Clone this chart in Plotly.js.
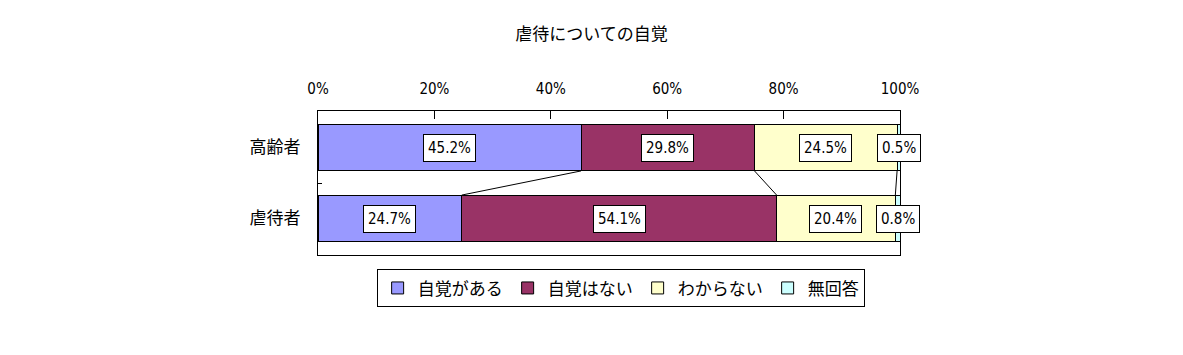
<!DOCTYPE html>
<html><head><meta charset="utf-8">
<script src="https://cdn.plot.ly/plotly-3.0.1.min.js"></script>
<style>html,body{margin:0;padding:0;background:#fff}#chart{width:1183px;height:355px}</style>
</head><body><div id="chart"></div>
<script>
const categories = ['高齢者', '虐待者'];
const seriesNames = ['自覚がある', '自覚はない', 'わからない', '無回答'];
const seriesColors = ['#9999FF', '#993366', '#FFFFCC', '#CCFFFF'];
const aware = [45.2, 24.7];
const notAware = [29.8, 54.1];
const unknown = [24.5, 20.4];
const noAnswer = [0.5, 0.8];
const xTickVals = [0, 20, 40, 60, 80, 100];
const xTickText = ['0%', '20%', '40%', '60%', '80%', '100%'];

const series = [aware, notAware, unknown, noAnswer];
const narrow = '"DejaVu Sans Condensed", "Liberation Sans Narrow", sans-serif';
const jp = '"Noto Sans CJK JP", sans-serif';
const barW = 0.66;

const traces = series.map((vals, i) => ({
  type: 'bar', orientation: 'h', name: seriesNames[i],
  y: categories, x: vals, width: barW,
  marker: {color: seriesColors[i], line: {color: '#000', width: 1}},
  hoverinfo: 'none'
}));

const annotations = [];
const shapes = [];
const cum = categories.map(() => []);
categories.forEach((c, ci) => {
  let s = 0;
  series.forEach((vals, si) => {
    const v = vals[ci];
    annotations.push({
      x: s + v / 2, y: c, xref: 'x', yref: 'y', text: v.toFixed(1) + '%', showarrow: false,
      font: {family: narrow, size: 15, color: '#000'},
      bgcolor: '#fff', bordercolor: '#000', borderwidth: 1, borderpad: 4
    });
    s += v;
    cum[ci].push(s);
  });
});
for (let si = 0; si < 3; si++) {
  shapes.push({type: 'line', xref: 'x', yref: 'y',
    x0: cum[0][si], y0: 0 + barW / 2, x1: cum[1][si], y1: 1 - barW / 2,
    line: {color: '#000', width: 1}});
}

const layout = {
  width: 1183, height: 355,
  margin: {l: 318, r: 283, t: 111, b: 100},
  paper_bgcolor: '#fff', plot_bgcolor: '#fff',
  barmode: 'stack',
  showlegend: true,
  title: {text: '虐待についての自覚', font: {family: jp, size: 17, color: '#000'}, x: 0.5, xanchor: 'center', y: 0.905, yanchor: 'middle'},
  xaxis: {side: 'top', range: [0, 100], tickvals: xTickVals, ticktext: xTickText,
    ticks: 'inside', ticklen: 8, tickcolor: '#000', showgrid: false, zeroline: false,
    showline: true, linecolor: '#000', linewidth: 1, mirror: true, ticklabelstandoff: 10,
    tickfont: {family: narrow, size: 15, color: '#000'}, fixedrange: true},
  yaxis: {type: 'category', autorange: false, range: [1.514, -0.514],
    ticks: 'inside', tickson: 'boundaries', ticklen: 4, tickcolor: '#000',
    showline: true, linecolor: '#000', linewidth: 1, mirror: true,
    showgrid: false, zeroline: false, ticklabelstandoff: 13,
    tickfont: {family: jp, size: 17, color: '#000'}, fixedrange: true},
  legend: {orientation: 'h', x: 0.52, xanchor: 'center', y: -0.1, yanchor: 'top',
    bordercolor: '#000', borderwidth: 1, font: {family: jp, size: 17, color: '#000'},
    itemwidth: 30, tracegroupgap: 0,
    traceorder: 'normal', itemclick: false, itemdoubleclick: false},
  annotations: annotations,
  shapes: shapes
};
Plotly.newPlot('chart', traces, layout, {staticPlot: true, displayModeBar: false});
</script></body></html>
